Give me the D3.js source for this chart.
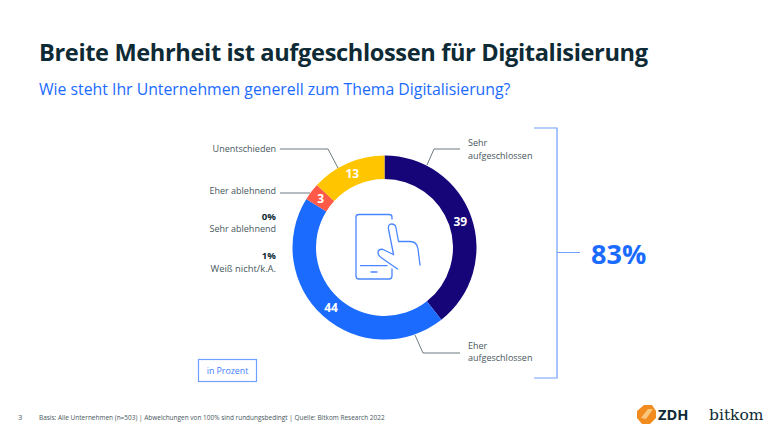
<!DOCTYPE html>
<html>
<head>
<meta charset="utf-8">
<script src="https://cdn.jsdelivr.net/npm/d3@7"></script>
<style>
    html, body { margin: 0; padding: 0; background: #fff; }
    text { font-family: "Open Sans", "Noto Sans", sans-serif; }
</style>
</head>
<body>
<svg id="chart" width="784" height="441"></svg>
<script>
// slice values, clockwise from 12 o'clock
var categories = ['Sehr aufgeschlossen', 'Eher aufgeschlossen', 'Eher ablehnend', 'Unentschieden'];
var values = [39, 44, 3, 13];
var sliceColors = ['#150578', '#1b6bff', '#ff5a47', '#ffc600'];

// answers too small to get a slice
var sideValues = ['0%', '1%'];
var sideLabels = ['Sehr ablehnend', 'Weiß nicht/k.A.'];

var titleText = 'Breite Mehrheit ist aufgeschlossen für Digitalisierung';
var subtitleText = 'Wie steht Ihr Unternehmen generell zum Thema Digitalisierung?';
var totalText = '83%';
var unitText = 'in Prozent';
var footerText = 'Basis: Alle Unternehmen (n=503) | Abweichungen von 100% sind rundungsbedingt | Quelle: Bitkom Research 2022';
var pageNumber = '3';

var dark = '#0e2a35',
    grey = '#47575d',
    blue = '#1b6bff',
    lightBlue = '#6f9fff';

var svg = d3.select('#chart');

svg.append('text').attr('x', 39).attr('y', 61)
    .attr('font-size', 23.6).attr('font-weight', 700).attr('letter-spacing', -0.37).attr('fill', dark)
    .text(titleText);

svg.append('text').attr('x', 39).attr('y', 95)
    .attr('font-size', 15.8).attr('fill', blue)
    .text(subtitleText);

// donut
var cx = 384.5, cy = 247.5, outerR = 92, innerR = 68.5;

var pie = d3.pie().sort(null).value(function (d) { return d; });
var arc = d3.arc().innerRadius(innerR).outerRadius(outerR);
var slices = pie(values);

var donut = svg.append('g').attr('transform', 'translate(' + cx + ',' + cy + ')');

donut.selectAll('path').data(slices)
    .enter()
    .append('path')
    .attr('d', arc)
    .attr('fill', function (d, i) { return sliceColors[i]; });

donut.selectAll('text').data(slices)
    .enter()
    .append('text')
    .attr('transform', function (d) { return 'translate(' + arc.centroid(d) + ')'; })
    .attr('text-anchor', 'middle')
    .attr('dy', '0.36em')
    .attr('font-size', 12)
    .attr('font-weight', 700)
    .attr('fill', '#fff')
    .text(function (d) { return d.value; });

// leader lines
var line = d3.line();
var leaders = [
    [[427, 165], [434, 149], [460, 149]],
    [[415, 335], [423, 353], [460, 353]],
    [[310, 193], [280, 193]],
    [[338, 168], [328, 149], [280, 149]]
];

svg.selectAll('.leader').data(leaders)
    .enter()
    .append('path')
    .attr('class', 'leader')
    .attr('d', line)
    .attr('fill', 'none')
    .attr('stroke', '#6d7b80')
    .attr('stroke-width', 1);

// category labels
function label(x, y, text, anchor, weight, color, size) {
    return svg.append('text')
        .attr('x', x).attr('y', y)
        .attr('text-anchor', anchor || 'start')
        .attr('font-size', size || 9)
        .attr('font-weight', weight || 400)
        .attr('fill', color || grey)
        .text(text);
}

label(468, 146, 'Sehr');
label(468, 159, 'aufgeschlossen');
label(468, 349, 'Eher');
label(468, 361, 'aufgeschlossen');
label(276, 152, categories[3], 'end');
label(276, 194, categories[2], 'end');
label(276, 220, sideValues[0], 'end', 700, dark, 9.6);
label(276, 232, sideLabels[0], 'end');
label(276, 259, sideValues[1], 'end', 700, dark, 9.6);
label(276, 272, sideLabels[1], 'end', 400, grey, 9.4);

// phone + hand icon in the middle
var icon = svg.append('g')
    .attr('fill', 'none')
    .attr('stroke', '#4a86ff')
    .attr('stroke-width', 1.3)
    .attr('stroke-linecap', 'round')
    .attr('stroke-linejoin', 'round');

icon.append('path').attr('d', 'M392,219 V217 Q392,214.5 389,214.5 H359 Q356,214.5 356,217 V276 Q356,279 359,279 H389 Q392,279 392,276 V269');
icon.append('path').attr('d', 'M360.5,265.7 H387');
icon.append('path').attr('d', 'M371,272 H377');
icon.append('path').attr('d', 'M393.5,254.5 L388.5,229 Q388,224 391.5,224 Q395.5,224 396,228 L398.5,241.5 H410 Q417,241.5 418,249 L420,265');
icon.append('path').attr('d', 'M393.5,254.5 L383,249.5 Q379,248.5 378,252 Q378,255.5 381,257.5 L397.5,269');

// bracket with the total
svg.append('path')
    .attr('d', 'M534,128 H557 V378 H534 M557,252.5 H580')
    .attr('fill', 'none')
    .attr('stroke', lightBlue)
    .attr('stroke-width', 1.2);

svg.append('text').attr('x', 591).attr('y', 264)
    .attr('font-size', 27).attr('font-weight', 700).attr('fill', blue)
    .text(totalText);

// unit box
svg.append('rect')
    .attr('x', 198.5).attr('y', 359.5).attr('width', 58).attr('height', 22)
    .attr('fill', '#fff').attr('stroke', lightBlue).attr('stroke-width', 1.2);

svg.append('text').attr('x', 227.5).attr('y', 374)
    .attr('text-anchor', 'middle').attr('font-size', 8.8).attr('fill', '#3f7dff')
    .text(unitText);

// footer
svg.append('text').attr('x', 18).attr('y', 420)
    .attr('font-size', 7.5).attr('fill', grey).text(pageNumber);

svg.append('text').attr('x', 39).attr('y', 420)
    .attr('font-size', 6.47).attr('fill', grey).text(footerText);

// logos
svg.append('path')
    .attr('d', 'M644,405 H652 L656,411 V418 L650,424 H642 L637,418 V411 Z')
    .attr('fill', '#f28c1e');
svg.append('path')
    .attr('d', 'M641,418 L648,409 H653 L646,419 Z')
    .attr('fill', '#fbc77f');

svg.append('text').attr('x', 658).attr('y', 420)
    .attr('font-size', 14.6).attr('font-weight', 700).attr('fill', dark)
    .text('ZDH');

svg.append('text').attr('x', 709).attr('y', 420)
    .style('font-family', '"DejaVu Serif", serif')
    .attr('font-size', 15.5).attr('fill', dark)
    .text('bitkom');
</script>
</body>
</html>
